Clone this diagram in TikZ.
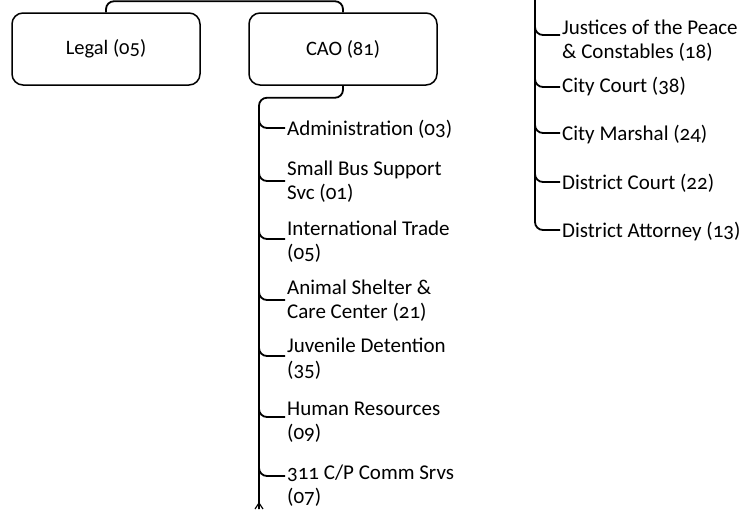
\documentclass[tikz,border=0pt]{standalone}
\usepackage{fontspec}
\setmainfont{Carlito}[Numbers=OldStyle]
\usetikzlibrary{calc}
\begin{document}
\begin{tikzpicture}[x=1pt,y=-1pt,
  box/.style={draw, line width=1.5pt, rounded corners=11pt, minimum width=188pt, minimum height=72pt, font=\fontsize{20.5}{24}\selectfont},
  lbl/.style={anchor=north west, align=left, inner sep=0pt, font=\fontsize{21}{23.5}\selectfont},
  conn/.style={line width=1.8pt, rounded corners=8pt}]
\useasboundingbox (0,0) rectangle (749,509);
% top boxes
\node[box] (legal) at (106,49) {Legal (05)};
\node[box] (cao) at (343,49) {CAO (81)};
\draw[conn] (legal.north) -- ++(0,-11) -| (cao.north);
% CAO spine
\coordinate (caoend) at (259,509);
\draw[conn] (cao.south) -- ++(0,12) -| (caoend);
\draw[line width=1.2pt] (255,509) -- (259,503) -- (263,509);
% CAO labels
\node[lbl] (admin) at (287,120) {Administration (03)};
\node[lbl] (sbus) at (287,161) {Small Bus Support\\Svc (01)};
\node[lbl] (intl) at (287,221) {International Trade\\(05)};
\node[lbl] (animal) at (287,280) {Animal Shelter \&\\Care Center (21)};
\node[lbl] (juv) at (287,338) {Juvenile Detention\\(35)};
\node[lbl] (hr) at (287,402) {Human Resources\\(09)};
\node[lbl] (c311) at (287,465) {311 C/P Comm Srvs\\(07)};
% CAO branches
\foreach \n/\d in {admin/8, sbus/20, intl/18, animal/20, juv/18, hr/15, c311/11}{
  \draw[conn] ($(\n.north west)+(-28,\d-12)$) |- ($(\n.north west)+(-2,\d)$);
}
% right column
\node[lbl] (jp) at (562,20) {Justices of the Peace\\\& Constables (18)};
\node[lbl] (ccourt) at (562,77) {City Court (38)};
\node[lbl] (marshal) at (562,125) {City Marshal (24)};
\node[lbl] (dcourt) at (562,174) {District Court (22)};
\node[lbl] (da) at (562,222) {District Attorney (13)};
\coordinate (rtop) at (535,0);
\draw[conn] (rtop) |- ($(da.north west)+(-2,8)$);
\foreach \n/\d in {jp/15, ccourt/10, marshal/8, dcourt/8}{
  \draw[conn] ($(\n.north west)+(-27,\d-12)$) |- ($(\n.north west)+(-2,\d)$);
}
\end{tikzpicture}
\end{document}
